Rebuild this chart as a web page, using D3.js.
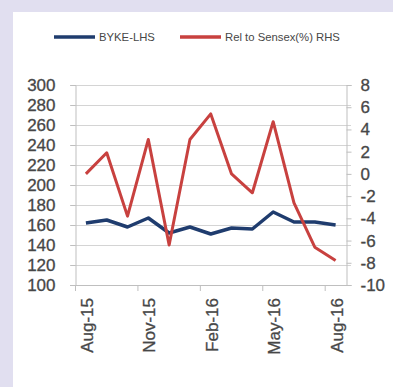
<!DOCTYPE html>
<html><head><meta charset="utf-8">
<script src="https://cdn.jsdelivr.net/npm/d3@7"></script>
<style>
html,body{margin:0;padding:0;background:#e1dff0;}
svg{display:block;}
</style></head>
<body>
<svg id="chart" width="393" height="387"></svg>
<script>
const months = ["Aug-15","Sep-15","Oct-15","Nov-15","Dec-15","Jan-16","Feb-16","Mar-16","Apr-16","May-16","Jun-16","Jul-16","Aug-16"];
const byke = [162,165,158,167,152,158,151,157,156,173,163,163,160];
const relSensex = [0,1.9,-3.8,3.1,-6.4,3.1,5.4,0,-1.7,4.7,-2.6,-6.6,-7.8];
const leftTicks = [100,120,140,160,180,200,220,240,260,280,300];
const rightTicks = [-10,-8,-6,-4,-2,0,2,4,6,8];
const labelMonths = ["Aug-15","Nov-15","Feb-16","May-16","Aug-16"];
const seriesNames = ["BYKE-LHS","Rel to Sensex(%) RHS"];
const colors = ["#1f3c6e","#c8413f"];

const svg = d3.select("#chart");
svg.append("rect").attr("x",13).attr("y",12).attr("width",380).attr("height",375).attr("fill","#fff");

const x = d3.scaleBand().domain(months).range([75.5,346]).padding(0);
const yL = d3.scaleLinear().domain([100,300]).range([285,85]);
const yR = d3.scaleLinear().domain([-10,8]).range([285,85]);
const font = "'Liberation Sans', Arial, sans-serif";
const txtCol = "#474747";

// gridlines
svg.append("g").selectAll("line").data(leftTicks.filter(d=>d>100)).join("line")
  .attr("x1",70).attr("x2",351).attr("y1",d=>Math.round(yL(d))+0.5).attr("y2",d=>Math.round(yL(d))+0.5)
  .attr("stroke","#d4d4d4").attr("stroke-width",1.2);

// left axis
const gL = svg.append("g").attr("transform","translate(75.5,0)")
  .call(d3.axisLeft(yL).tickValues(leftTicks).tickFormat(d=>String(d)).tickSize(5).tickPadding(15));
gL.select(".domain").attr("stroke","#bfbfbf");
gL.selectAll(".tick line").attr("stroke","#bfbfbf");
gL.selectAll("text").attr("font-family",font).attr("font-size",17).attr("fill",txtCol)
  .attr("stroke",txtCol).attr("stroke-width",0.3);

// right axis
const gR = svg.append("g").attr("transform","translate(346.5,0)")
  .call(d3.axisRight(yR).tickValues(rightTicks).tickFormat(d=>String(d)).tickSize(5).tickPadding(9));
gR.select(".domain").attr("stroke","#bfbfbf");
gR.selectAll(".tick line").attr("stroke","#bfbfbf");
gR.selectAll("text").attr("font-family",font).attr("font-size",17).attr("fill",txtCol)
  .attr("stroke",txtCol).attr("stroke-width",0.3);

// bottom axis
svg.append("line").attr("x1",70).attr("x2",351).attr("y1",285.5).attr("y2",285.5).attr("stroke","#bfbfbf");
const boundaries = months.filter((d,i)=>i%3===0);
svg.append("g").selectAll("line").data(boundaries).join("line")
  .attr("x1",d=>x(d)).attr("x2",d=>x(d)).attr("y1",285).attr("y2",291)
  .attr("stroke","#bfbfbf");
svg.append("g").selectAll("text").data(labelMonths).join("text")
  .attr("transform",d=>`translate(${x(d)+x.bandwidth()/2+1},298) rotate(-90)`)
  .attr("text-anchor","end").attr("dy","0.35em")
  .attr("font-family",font).attr("font-size",17).attr("fill",txtCol)
  .attr("stroke",txtCol).attr("stroke-width",0.3)
  .text(d=>d);

// lines
const cx = d=>x(d)+x.bandwidth()/2;
svg.append("path").datum(byke.map((v,i)=>[months[i],v]))
  .attr("fill","none").attr("stroke",colors[0]).attr("stroke-width",3.5).attr("stroke-linejoin","round")
  .attr("d",d3.line().x(d=>cx(d[0])).y(d=>yL(d[1])));
svg.append("path").datum(relSensex.map((v,i)=>[months[i],v]))
  .attr("fill","none").attr("stroke",colors[1]).attr("stroke-width",3).attr("stroke-linejoin","round")
  .attr("d",d3.line().x(d=>cx(d[0])).y(d=>yR(d[1])));

// legend
const legendX = [54,180];
const lg = svg.append("g");
seriesNames.forEach((n,i)=>{
  lg.append("line").attr("x1",legendX[i]).attr("x2",legendX[i]+41).attr("y1",37).attr("y2",37)
    .attr("stroke",colors[i]).attr("stroke-width",3.5);
  lg.append("text").attr("x",legendX[i]+45).attr("y",37).attr("dy","0.35em")
    .attr("font-family",font).attr("font-size",11.3).attr("fill",txtCol).text(n);
});
</script>
</body></html>
